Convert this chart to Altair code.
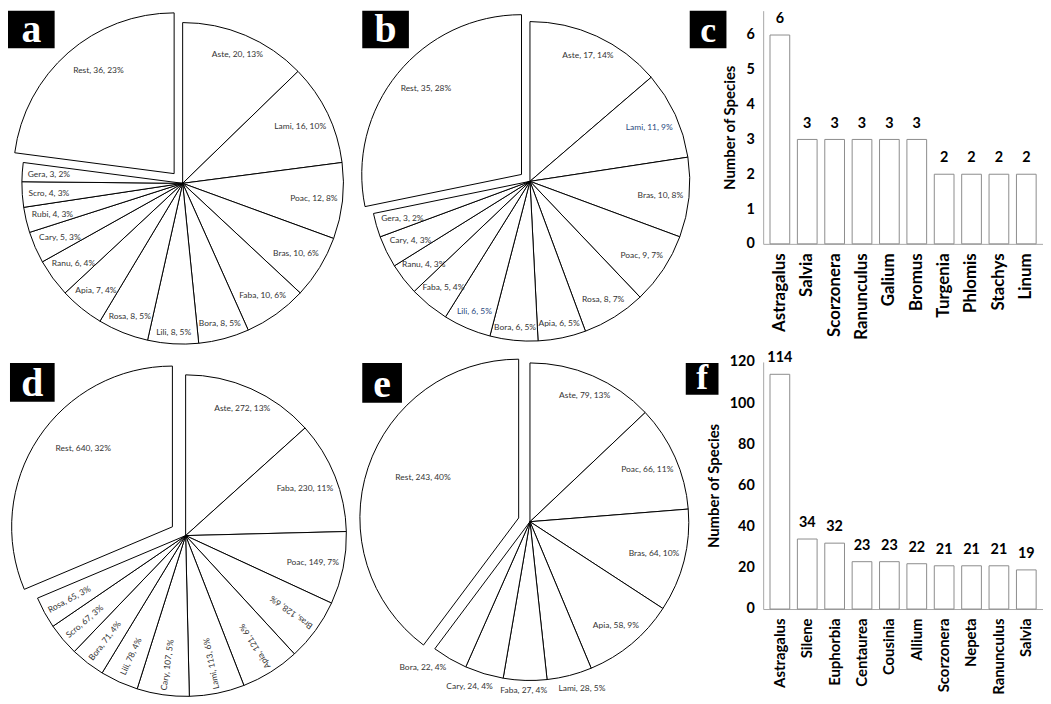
import math
import altair as alt
import pandas as pd

# ---------------- data ----------------
a_cats = ["Aste", "Lami", "Poac", "Bras", "Faba", "Bora", "Lili", "Rosa", "Apia", "Ranu", "Cary", "Rubi", "Scro", "Gera", "Rest"]
a_vals = [20, 16, 12, 10, 10, 8, 8, 8, 7, 6, 5, 4, 4, 3, 36]
a_pcts = ["13%", "10%", "8%", "6%", "6%", "5%", "5%", "5%", "4%", "4%", "3%", "3%", "3%", "2%", "23%"]

b_cats = ["Aste", "Lami", "Bras", "Poac", "Rosa", "Apia", "Bora", "Lili", "Faba", "Ranu", "Cary", "Gera", "Rest"]
b_vals = [17, 11, 10, 9, 8, 6, 6, 6, 5, 4, 4, 3, 35]
b_pcts = ["14%", "9%", "8%", "7%", "7%", "5%", "5%", "5%", "4%", "3%", "3%", "2%", "28%"]
b_blue_labels = ["Lami", "Lili"]

c_genus = ["Astragalus", "Salvia", "Scorzonera", "Ranunculus", "Galium", "Bromus", "Turgenia", "Phlomis", "Stachys", "Linum"]
c_counts = [6, 3, 3, 3, 3, 3, 2, 2, 2, 2]
c_ticks = [0, 1, 2, 3, 4, 5, 6]

d_cats = ["Aste", "Faba", "Poac", "Bras", "Apia", "Lami", "Cary", "Lili", "Bora", "Scro", "Rosa", "Rest"]
d_vals = [272, 230, 149, 128, 121, 113, 107, 78, 71, 67, 65, 640]
d_pcts = ["13%", "11%", "7%", "6%", "6%", "6%", "5%", "4%", "4%", "3%", "3%", "32%"]

e_cats = ["Aste", "Poac", "Bras", "Apia", "Lami", "Faba", "Cary", "Bora", "Rest"]
e_vals = [79, 66, 64, 58, 28, 27, 24, 22, 243]
e_pcts = ["13%", "11%", "10%", "9%", "5%", "4%", "4%", "4%", "40%"]

f_genus = ["Astragalus", "Silene", "Euphorbia", "Centaurea", "Cousinia", "Allium", "Scorzonera", "Nepeta", "Ranunculus", "Salvia"]
f_counts = [114, 34, 32, 23, 23, 22, 21, 21, 21, 19]
f_ticks = [0, 20, 40, 60, 80, 100, 120]

LABEL_COLOR = "#333333"
BLUE_LABEL = "#2a4a80"
LABEL_FONT = "Lato"
LABEL_SIZE = 8.5
HALF_CHAR = 1.95   # approx. half width of one label character, px
HALF_H = 6         # approx. half height of a label, px


def letter_box(letter, box, size):
    x1, y1, x2, y2 = box
    df = pd.DataFrame({"t": [letter]})
    rect = alt.Chart(df).mark_rect(color="black").encode(
        x=alt.value(x1), x2=alt.value(x2), y=alt.value(y1), y2=alt.value(y2)
    )
    txt = alt.Chart(df).mark_text(
        font="Liberation Serif", fontWeight="bold", fontSize=size, color="white",
        align="center", baseline="alphabetic"
    ).encode(x=alt.value((x1 + x2) / 2), y=alt.value(y2 - 6), text="t:N")
    return [rect, txt]


def pie_panel(cats, vals, pcts, letter, cx, cy, R, w, h, rest_label_r, rest_nudge,
              explode, box, rotate=False, outside=False, blue=()):
    df = pd.DataFrame({"idx": list(range(len(cats))), "cat": cats, "val": vals, "pct": pcts})
    total = sum(vals)
    rest_val = vals[cats.index("Rest")]
    ang = (total - rest_val / 2) / total * 2 * math.pi
    dx = explode * math.sin(ang)
    dy = -explode * math.cos(ang)
    th = alt.Scale(domain=[0, 1], range=[0, 2 * math.pi])
    blue_list = "[" + ",".join(f"'{b}'" for b in blue) + "]"

    base = alt.Chart(df).transform_window(
        cum="sum(val)", sort=[alt.SortField("idx")], frame=[None, 0]
    ).transform_joinaggregate(total="sum(val)").transform_calculate(
        start="(datum.cum - datum.val) / datum.total",
        end="datum.cum / datum.total",
        mid="(datum.cum - datum.val / 2) / datum.total",
        lab="datum.cat + ', ' + datum.val + ', ' + datum.pct",
    ).transform_calculate(
        isrot=f"{str(rotate).lower()} && datum.cat != 'Rest' && datum.mid * 360 > 110",
        isout=f"{str(outside).lower()} && datum.val / datum.total < 0.06",
        restmid=f"datum.mid + {rest_nudge / 360.0}",
        isblue=f"indexof({blue_list}, datum.cat) >= 0",
    ).transform_calculate(
        labmid="datum.isout ? 0.5 + (datum.mid - 0.5) * 1.2 : datum.mid",
    ).transform_calculate(
        rot="datum.isrot ? datum.labmid * 360 + 90 : 0",
        ext=(f"datum.isrot ? length(datum.lab) * {HALF_CHAR} : "
             f"abs(sin(datum.labmid * 2 * PI)) * length(datum.lab) * {HALF_CHAR} + "
             f"abs(cos(datum.labmid * 2 * PI)) * {HALF_H}"),
    ).transform_calculate(
        lr=f"datum.isout ? {R + 3} + datum.ext : {R - 5} - datum.ext",
    )

    arc_enc = dict(
        theta=alt.Theta("start:Q", scale=th, stack=False),
        theta2=alt.Theta2("end:Q"),
        x=alt.value(cx), y=alt.value(cy),
    )
    arcs = base.transform_filter("datum.cat != 'Rest'").mark_arc(
        radius=R, fill="white", stroke="black", strokeWidth=1
    ).encode(**arc_enc)
    rest = base.transform_filter("datum.cat == 'Rest'").mark_arc(
        radius=R, fill="white", stroke="black", strokeWidth=1, xOffset=dx, yOffset=dy
    ).encode(**arc_enc)

    labels = base.transform_filter("datum.cat != 'Rest'").mark_text(
        font=LABEL_FONT, fontSize=LABEL_SIZE, align="center", baseline="middle"
    ).encode(
        theta=alt.Theta("labmid:Q", scale=th),
        radius=alt.Radius("lr:Q", scale=None),
        angle=alt.Angle("rot:Q", scale=None),
        text="lab:N",
        color=alt.condition("datum.isblue", alt.value(BLUE_LABEL), alt.value(LABEL_COLOR)),
        x=alt.value(cx), y=alt.value(cy),
    )
    rest_lab = base.transform_filter("datum.cat == 'Rest'").mark_text(
        font=LABEL_FONT, fontSize=LABEL_SIZE, color=LABEL_COLOR, align="center", baseline="middle",
        xOffset=dx, yOffset=dy
    ).encode(
        theta=alt.Theta("restmid:Q", scale=th),
        text="lab:N",
        x=alt.value(cx), y=alt.value(cy),
        radius=alt.value(rest_label_r),
    )
    layers = [arcs, rest, labels, rest_lab] + letter_box(letter, box, 40)
    return alt.layer(*layers).properties(width=w, height=h)


def bar_panel(genus, counts, ticks, dmax, letter, w, h, box, xlab_size):
    df = pd.DataFrame({"genus": genus, "n": counts})
    xs = alt.Scale(paddingInner=0.28, paddingOuter=0.25)
    x = alt.X(
        "genus:N", sort=genus, scale=xs,
        axis=alt.Axis(
            title=None, labelAngle=-90, labelFont="Lato", labelFontWeight="bold",
            labelFontSize=xlab_size, labelColor="black", ticks=False, domainColor="#a6a6a6",
            labelPadding=9, labelOverlap=False,
        ),
    )
    y = alt.Y(
        "n:Q", scale=alt.Scale(domain=[0, dmax], nice=False),
        axis=alt.Axis(
            title="Number of Species", values=ticks, grid=False, ticks=False,
            domainColor="#a6a6a6", labelFont="Lato", labelFontWeight="bold",
            labelFontSize=14.5, labelColor="black", labelPadding=9, labelOverlap=False,
            titleFont="Lato", titleFontSize=15, titleFontWeight="bold",
            titleColor="black", titlePadding=8,
        ),
    )
    bars = alt.Chart(df).mark_bar(fill="white", stroke="#8c8c8c", strokeWidth=1).encode(x=x, y=y)
    vals = alt.Chart(df).mark_text(
        dy=-16, font="Lato", fontWeight="bold", fontSize=14.5, color="black"
    ).encode(x=x, y=y, text="n:Q")
    layers = [bars, vals] + letter_box(letter, box, 36)
    return alt.layer(*layers).properties(width=w, height=h)


pa = pie_panel(a_cats, a_vals, a_pcts, "a", 176, 174, 162, 350, 354, 129, 5, 13, (0, 0, 47, 38))
pb = pie_panel(b_cats, b_vals, b_pcts, "b", 176, 172, 161, 411, 354, 130, 3, 11, (7, 0, 54, 38),
               blue=b_blue_labels)
pc = bar_panel(c_genus, c_counts, c_ticks, 6.7, "c", 282, 235, (-74, 0, -37, 38), 17)
pd_ = pie_panel(d_cats, d_vals, d_pcts, "d", 179, 175, 162, 350, 334, 120, 8, 16, (2, 1, 47, 40), rotate=True)
pe = pie_panel(e_cats, e_vals, e_pcts, "e", 176, 161, 160, 411, 334, 105, 5, 12, (7, 1, 47, 41), outside=True)
pf = bar_panel(f_genus, f_counts, f_ticks, 120, "f", 282, 249, (-78, 1, -45, 33), 15)

chart = alt.concat(
    pa, pb, pc, pd_, pe, pf, columns=3, spacing=0, bounds="flush", align="each"
).properties(padding=0).configure_view(stroke=None)

chart.save("out.html", embed_options={"renderer": "svg", "actions": False})
